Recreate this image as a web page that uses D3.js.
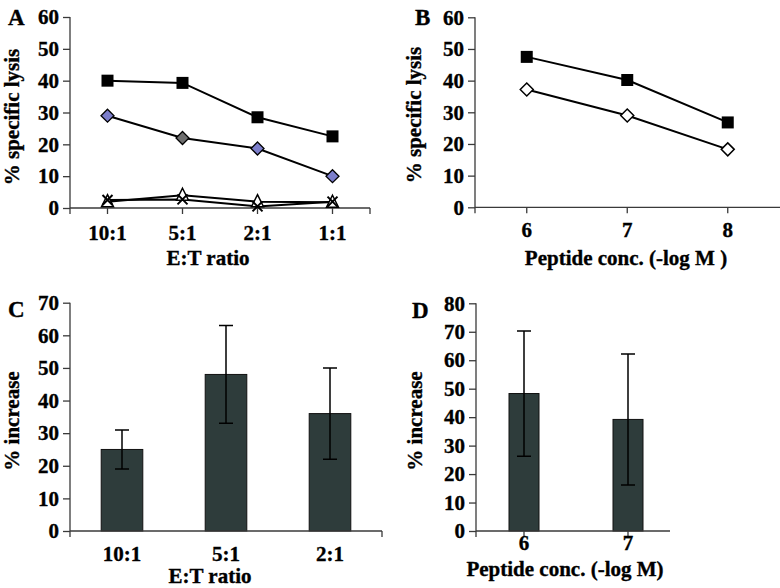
<!DOCTYPE html>
<html><head><meta charset="utf-8">
<script src="https://cdn.jsdelivr.net/npm/d3@7"></script>
<style>
html,body{margin:0;padding:0;background:#fff;}
svg text{font-family:"Liberation Serif","Times New Roman",serif;font-weight:bold;fill:#000;stroke:#000;stroke-width:0.35px;}
</style></head>
<body>
<svg id="c" width="780" height="588"></svg>
<script>
// ---------- DATA ----------
const etRatiosA = ["10:1", "5:1", "2:1", "1:1"];
const lysisSquareA = [40, 39.3, 28.5, 22.5];
const lysisDiamondA = [29, 22, 18.7, 10];
const lysisTriangleA = [2, 4, 2, 1.8];
const lysisCrossA = [2.5, 2.7, 0.5, 2];

const peptideB = [6, 7, 8];
const lysisSquareB = [47.5, 40.2, 26.8];
const lysisDiamondB = [37.2, 29, 18.3];

const lysisTicks = [0, 10, 20, 30, 40, 50, 60];

const etRatiosC = ["10:1", "5:1", "2:1"];
const increaseC = [25, 48, 36];
const errorC = [6, 15, 14];
const increaseTicksC = [0, 10, 20, 30, 40, 50, 60, 70];

const peptideD = [6, 7];
const increaseD = [48.3, 39.2];
const errorD = [22, 23];
const increaseTicksD = [0, 10, 20, 30, 40, 50, 60, 70, 80];

// ---------- STYLE ----------
const diamondFillA = ["#7c7ecb", "#6f6f6f", "#7c7ecb", "#7c7ecb"];
const axisColor = "#3a3a3a";
const barFill = "#2e3c3b";
const tickFont = "21px";

const svg = d3.select("#c");

function yAxis(g, y, ticks, x0) {
  const ax = g.append("g").attr("transform", `translate(${x0},0)`)
    .call(d3.axisLeft(y).tickValues(ticks).tickSize(7).tickPadding(4).tickSizeOuter(0));
  ax.select(".domain").remove();
  ax.selectAll("line").attr("stroke", axisColor).attr("stroke-width", 1.3);
  ax.selectAll("text").style("font-size", tickFont).attr("fill", "#000");
  return ax;
}
function lineSeg(g, x1, y1, x2, y2) {
  g.append("line").attr("x1", x1).attr("y1", y1).attr("x2", x2).attr("y2", y2)
    .attr("stroke", axisColor).attr("stroke-width", 1.3);
}
function xTickLabels(g, positions, labels, base) {
  g.selectAll(null).data(labels).join("text")
    .attr("x", (d, i) => positions[i]).attr("y", base)
    .attr("text-anchor", "middle").style("font-size", tickFont).text(d => d);
}
function xTicks(g, positions, yb) {
  positions.forEach(p => lineSeg(g, p, yb, p, yb + 6));
}
function title(g, txt, x, y, size, anchor) {
  g.append("text").attr("x", x).attr("y", y).attr("text-anchor", anchor || "middle")
    .style("font-size", size + "px").text(txt);
}
function ytitle(g, txt, x, y) {
  g.append("text").attr("transform", `translate(${x},${y}) rotate(-90)`)
    .attr("text-anchor", "middle").style("font-size", "21px").text(txt);
}
const diamondPath = (cx, cy, r) => `M${cx},${cy - r}L${cx + r},${cy}L${cx},${cy + r}L${cx - r},${cy}Z`;

// ---------- PANEL A ----------
{
  const g = svg.append("g");
  const x = d3.scalePoint().domain(etRatiosA).range([70, 370]).padding(0.5);
  const y = d3.scaleLinear().domain([0, 60]).range([208, 17]);
  yAxis(g, y, lysisTicks, 70);
  lineSeg(g, 70, y(60), 70, y(0) + 6);
  lineSeg(g, 70, y(0), 370, y(0));
  xTicks(g, [370].concat(etRatiosA.map(d => x(d))), y(0));
  xTickLabels(g, etRatiosA.map(d => x(d)), etRatiosA, 240);
  title(g, "E:T ratio", 208, 265, 21);
  ytitle(g, "% specific lysis", 19, 117);
  title(g, "A", 8, 25, 23, "start");

  const line = d3.line().x((d, i) => x(etRatiosA[i])).y(d => y(d));
  [lysisTriangleA, lysisCrossA, lysisDiamondA, lysisSquareA].forEach(s => {
    g.append("path").attr("d", line(s)).attr("fill", "none").attr("stroke", "#000").attr("stroke-width", 2);
  });
  lysisTriangleA.forEach((v, i) => {
    const cx = x(etRatiosA[i]), cy = y(v);
    g.append("path").attr("d", `M${cx},${cy - 7}L${cx + 6},${cy + 5}L${cx - 6},${cy + 5}Z`)
      .attr("fill", "#fff").attr("stroke", "#000").attr("stroke-width", 1.5);
  });
  lysisCrossA.forEach((v, i) => {
    const cx = x(etRatiosA[i]), cy = y(v);
    g.append("path").attr("d", `M${cx - 5},${cy - 5}L${cx + 5},${cy + 5}M${cx + 5},${cy - 5}L${cx - 5},${cy + 5}`)
      .attr("stroke", "#000").attr("stroke-width", 2);
  });
  lysisDiamondA.forEach((v, i) => {
    g.append("path").attr("d", diamondPath(x(etRatiosA[i]), y(v), 6.5))
      .attr("fill", diamondFillA[i]).attr("stroke", "#000").attr("stroke-width", 1.3);
  });
  lysisSquareA.forEach((v, i) => {
    g.append("rect").attr("x", x(etRatiosA[i]) - 6).attr("y", y(v) - 6).attr("width", 12).attr("height", 12)
      .attr("fill", "#000");
  });
}

// ---------- PANEL B ----------
{
  const g = svg.append("g");
  const x = d3.scaleLinear().domain([5.5, 8.5]).range([476.5, 778]);
  const y = d3.scaleLinear().domain([0, 60]).range([207.3, 17.3]);
  yAxis(g, y, lysisTicks, 475);
  lineSeg(g, 475, y(60), 475, y(0) + 6);
  lineSeg(g, 475, y(0), 780, y(0));
  xTicks(g, peptideB.map(d => x(d)), y(0));
  xTickLabels(g, peptideB.map(d => x(d)), peptideB, 237);
  title(g, "Peptide conc. (-log M )", 626, 265, 21);
  ytitle(g, "% specific lysis", 421, 115);
  title(g, "B", 415, 25, 23, "start");

  const line = d3.line().x((d, i) => x(peptideB[i])).y(d => y(d));
  [lysisDiamondB, lysisSquareB].forEach(s => {
    g.append("path").attr("d", line(s)).attr("fill", "none").attr("stroke", "#000").attr("stroke-width", 2);
  });
  lysisDiamondB.forEach((v, i) => {
    g.append("path").attr("d", diamondPath(x(peptideB[i]), y(v), 6.5))
      .attr("fill", "#fff").attr("stroke", "#000").attr("stroke-width", 1.5);
  });
  lysisSquareB.forEach((v, i) => {
    g.append("rect").attr("x", x(peptideB[i]) - 6).attr("y", y(v) - 6).attr("width", 12).attr("height", 12)
      .attr("fill", "#000");
  });
}

// ---------- PANEL C ----------
{
  const g = svg.append("g");
  const x = d3.scalePoint().domain(etRatiosC).range([70, 382]).padding(0.5);
  const y = d3.scaleLinear().domain([0, 70]).range([531, 302.7]);
  const bw = x.step() * 0.4;
  g.selectAll(null).data(increaseC).join("rect")
    .attr("x", (d, i) => x(etRatiosC[i]) - bw / 2).attr("y", d => y(d))
    .attr("width", bw).attr("height", d => y(0) - y(d))
    .attr("fill", barFill).attr("stroke", "#111").attr("stroke-width", 1);
  yAxis(g, y, increaseTicksC, 70);
  lineSeg(g, 70, y(70), 70, y(0) + 6);
  lineSeg(g, 70, y(0), 382, y(0));
  lineSeg(g, 382, y(0), 382, y(0) + 6);
  increaseC.forEach((v, i) => {
    const cx = x(etRatiosC[i]), hi = y(v + errorC[i]), lo = y(v - errorC[i]);
    g.append("path").attr("d", `M${cx},${hi}V${lo}M${cx - 7},${hi}H${cx + 7}M${cx - 7},${lo}H${cx + 7}`)
      .attr("stroke", "#000").attr("stroke-width", 1.5).attr("fill", "none");
  });
  xTickLabels(g, etRatiosC.map(d => x(d)), etRatiosC, 561);
  title(g, "E:T ratio", 210, 583, 21);
  ytitle(g, "% increase", 19, 421);
  title(g, "C", 8, 317, 23, "start");
}

// ---------- PANEL D ----------
{
  const g = svg.append("g");
  const x = d3.scaleLinear().domain([6, 7]).range([524, 628]);
  const y = d3.scaleLinear().domain([0, 80]).range([531, 303.3]);
  const bw = 30;
  g.selectAll(null).data(increaseD).join("rect")
    .attr("x", (d, i) => x(peptideD[i]) - bw / 2).attr("y", d => y(d))
    .attr("width", bw).attr("height", d => y(0) - y(d))
    .attr("fill", barFill).attr("stroke", "#111").attr("stroke-width", 1);
  yAxis(g, y, increaseTicksD, 476);
  lineSeg(g, 476, y(80), 476, y(0) + 6);
  lineSeg(g, 476, y(0), 670, y(0));
  xTicks(g, peptideD.map(d => x(d)), y(0));
  increaseD.forEach((v, i) => {
    const cx = x(peptideD[i]), hi = y(v + errorD[i]), lo = y(v - errorD[i]);
    g.append("path").attr("d", `M${cx},${hi}V${lo}M${cx - 7},${hi}H${cx + 7}M${cx - 7},${lo}H${cx + 7}`)
      .attr("stroke", "#000").attr("stroke-width", 1.5).attr("fill", "none");
  });
  xTickLabels(g, peptideD.map(d => x(d)), peptideD, 550);
  title(g, "Peptide conc. (-log M)", 565, 576, 21);
  ytitle(g, "% increase", 422, 421);
  title(g, "D", 412, 318, 23, "start");
}
</script>
</body></html>
